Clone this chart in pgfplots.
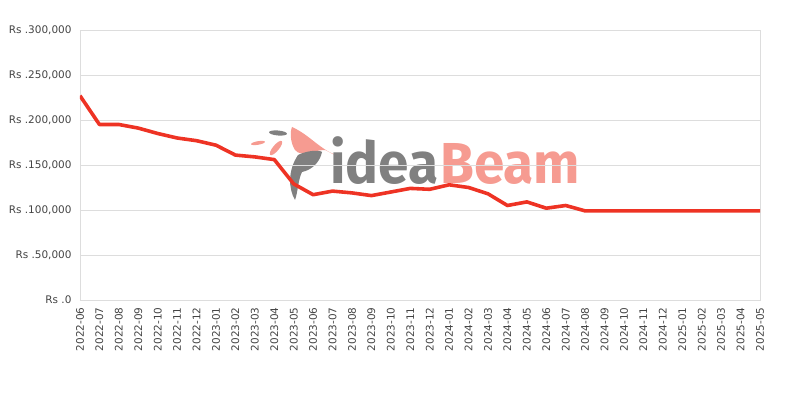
\documentclass[border=0pt]{standalone}
\usepackage{pgfplots}
\pgfplotsset{compat=1.18}
\usepackage{fontspec}
\setmainfont{DejaVu Sans}
\newfontfamily\wmfont{Fira Sans}
\definecolor{linered}{RGB}{238,51,36}
\definecolor{gridgray}{RGB}{221,221,221}
\definecolor{ticktext}{RGB}{68,68,68}
\definecolor{wmgray}{RGB}{128,128,128}
\definecolor{wmsalmon}{RGB}{246,155,145}
\begin{document}
\begin{tikzpicture}
\path[use as bounding box] (-80bp,-100bp) rectangle (720bp,300bp);
% watermark (logo)
\fill[wmsalmon] (212bp,173bp) .. controls (230bp,165bp) and (240bp,150bp) .. (260bp,143bp)
  -- (245bp,150bp) .. controls (232bp,150bp) and (222bp,142bp) .. (215bp,150bp)
  .. controls (210bp,158bp) and (210bp,168bp) .. cycle;
\fill[wmgray] (218bp,145bp) .. controls (228bp,150bp) and (240bp,150bp) .. (242bp,148bp)
  .. controls (240bp,138bp) and (232bp,130bp) .. (222bp,128bp)
  .. controls (218bp,120bp) and (218bp,108bp) .. (215bp,100bp)
  .. controls (208bp,112bp) and (208bp,130bp) .. cycle;
\fill[wmsalmon, rotate around={10:(178bp,157bp)}] (178bp,157bp) ellipse (7bp and 1.8bp);
\fill[wmsalmon, rotate around={50:(196bp,152bp)}] (196bp,152bp) ellipse (9bp and 3bp);
\fill[wmgray, rotate around={-5:(198bp,167bp)}] (198bp,167bp) ellipse (9bp and 2.5bp);
\node[anchor=base west, inner sep=0pt, font=\wmfont\bfseries\fontsize{58}{62}\selectfont, xscale=0.95, text=wmgray] at (250bp,116bp) {idea};
\node[anchor=base west, inner sep=0pt, font=\wmfont\bfseries\fontsize{58}{62}\selectfont, xscale=0.95, text=wmsalmon] at (360bp,116bp) {Beam};
\begin{axis}[
  at={(0,0)}, anchor=south west,
  scale only axis, width=680bp, height=270bp,
  xmin=0, xmax=35, ymin=0, ymax=300000,
  scaled y ticks=false,
  axis line style={gridgray},
  tick style={draw=none},
  ymajorgrids, grid style={gridgray, line width=0.8pt},
  ytick={0,50000,100000,150000,200000,250000,300000},
  yticklabels={Rs .0,Rs .50{,}000,Rs .100{,}000,Rs .150{,}000,Rs .200{,}000,Rs .250{,}000,Rs .300{,}000},
  xtick={0,...,35},
  xticklabels={2022-06,2022-07,2022-08,2022-09,2022-10,2022-11,2022-12,2023-01,2023-02,2023-03,2023-04,2023-05,2023-06,2023-07,2023-08,2023-09,2023-10,2023-11,2023-12,2024-01,2024-02,2024-03,2024-04,2024-05,2024-06,2024-07,2024-08,2024-09,2024-10,2024-11,2024-12,2025-01,2025-02,2025-03,2025-04,2025-05},
  x tick label style={rotate=90, anchor=east, font=\fontsize{10.5}{12}\selectfont, text=ticktext},
  y tick label style={font=\fontsize{10.5}{12}\selectfont, text=ticktext},
  xticklabel shift=4bp, yticklabel shift=5bp,
]
\addplot[linered, line width=3.6pt, line join=round] coordinates {
(0,227000) (1,195000) (2,195000) (3,191000) (4,185000) (5,180000) (6,177000) (7,172000)
(8,161000) (9,159000) (10,156000) (11,129000) (12,117000) (13,121000) (14,119000) (15,116000)
(16,120000) (17,124000) (18,123000) (19,128000) (20,125000) (21,118000) (22,105000) (23,109000)
(24,102000) (25,105000) (26,99000) (27,99000) (28,99000) (29,99000) (30,99000) (31,99000)
(32,99000) (33,99000) (34,99000) (35,99000)
};
\end{axis}
\end{tikzpicture}
\end{document}
